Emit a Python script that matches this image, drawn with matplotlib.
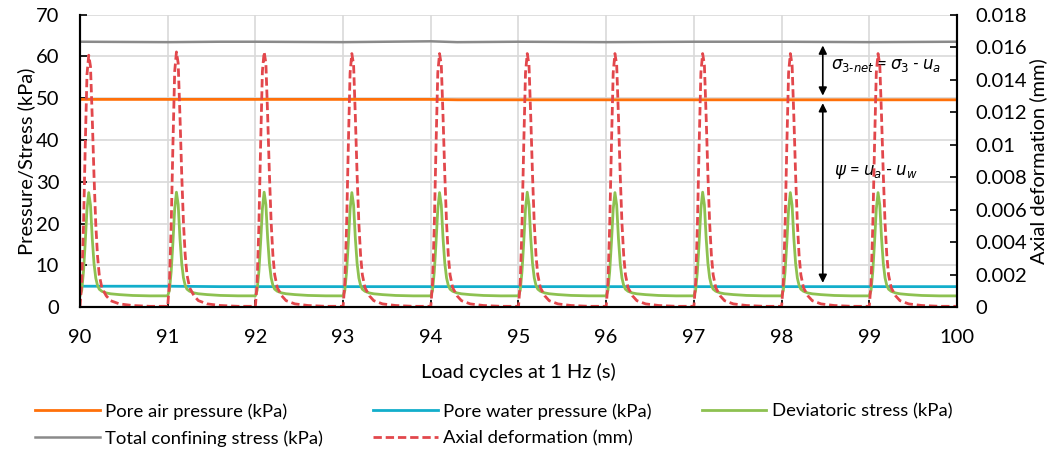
import numpy as np
import matplotlib
matplotlib.use("Agg")
import matplotlib.pyplot as plt
from matplotlib.ticker import FuncFormatter

plt.rcParams["font.family"] = ["Lato", "DejaVu Sans"]

# ---------------------------------------------------------------------------
# Data
# ---------------------------------------------------------------------------
cycle_starts = [90.0, 91.0, 92.0, 93.0, 94.0, 95.0, 96.0, 97.0, 98.0, 99.0]

# one load pulse, offsets in seconds from the cycle start
pulse_offsets = [0.00, 0.02, 0.04, 0.06, 0.08, 0.10, 0.12, 0.14, 0.16, 0.18,
                 0.20, 0.22, 0.25, 0.30, 0.35, 0.45, 0.60, 0.80, 0.99]
deviatoric_pulse = [2.7, 4.0, 8.5, 15.5, 23.5, 27.5, 24.5, 16.5, 10.5, 7.0,
                    5.2, 4.3, 3.8, 3.4, 3.2, 3.0, 2.8, 2.7, 2.7]
axial_pulse = [0.0000, 0.0015, 0.0050, 0.0100, 0.0145, 0.0157, 0.0150, 0.0118,
               0.0082, 0.0052, 0.0032, 0.0020, 0.0012, 0.0007, 0.0004,
               0.0002, 0.0001, 0.00005, 0.00005]

# per-cycle peaks
deviatoric_peaks = [27.4, 27.5, 27.5, 27.4, 27.4, 27.5, 27.4, 27.5, 27.4, 27.4]
axial_peaks = [0.0155, 0.0157, 0.0157, 0.0156, 0.0156, 0.0156, 0.0156,
               0.0156, 0.0156, 0.0156]

# near-constant pressures
t_const = [90.0, 91.0, 91.6, 92.0, 93.0, 94.0, 94.3, 95.0, 96.0, 97.0, 98.0, 99.0, 100.0]
pore_air = [49.7, 49.7, 49.7, 49.7, 49.7, 49.7, 49.6, 49.6, 49.6, 49.6, 49.6, 49.6, 49.6]
pore_water = [5.0, 5.0, 4.9, 4.9, 4.9, 4.9, 4.9, 4.9, 4.9, 4.9, 4.9, 4.9, 4.9]
confining = [63.5, 63.4, 63.5, 63.5, 63.4, 63.6, 63.4, 63.5, 63.4, 63.5, 63.5, 63.4, 63.5]

# ---------------------------------------------------------------------------
# Build the cyclic series
# ---------------------------------------------------------------------------
t_cyc, q_cyc, d_cyc = [], [], []
for c, qp, dp in zip(cycle_starts, deviatoric_peaks, axial_peaks):
    for off, q, d in zip(pulse_offsets, deviatoric_pulse, axial_pulse):
        t_cyc.append(c + off)
        q_cyc.append(q * qp / max(deviatoric_pulse))
        d_cyc.append(d * dp / max(axial_pulse))

c_air = "#FF7009"
c_water = "#12AECB"
c_dev = "#8DC151"
c_conf = "#8A8A8A"
c_ax = "#E2474C"

# ---------------------------------------------------------------------------
# Plot
# ---------------------------------------------------------------------------
fig = plt.figure(figsize=(10.62, 4.55), dpi=100)
ax = fig.add_axes([0.0753, 0.325, 0.8258, 0.643])
ax2 = ax.twinx()

l_air, = ax.plot(t_const, pore_air, color=c_air, lw=2.0, label="Pore air pressure (kPa)")
l_water, = ax.plot(t_const, pore_water, color=c_water, lw=2.0, label="Pore water pressure (kPa)")
l_dev, = ax.plot(t_cyc, q_cyc, color=c_dev, lw=2.0, label="Deviatoric stress (kPa)")
l_conf, = ax.plot(t_const, confining, color=c_conf, lw=1.8, label="Total confining stress (kPa)")
l_ax, = ax2.plot(t_cyc, d_cyc, color=c_ax, lw=2.0, dashes=(3.0, 1.4),
                 label="Axial deformation (mm)")

ax.set_xlim(90, 100)
ax.set_ylim(0, 70)
ax2.set_ylim(0, 0.018)
ax.set_xticks(np.arange(90, 101, 1))
ax.set_yticks(np.arange(0, 71, 10))
ax2.set_yticks(np.arange(0, 0.0181, 0.002))
ax2.yaxis.set_major_formatter(FuncFormatter(lambda v, p: f"{round(v, 4):g}"))

ax.grid(True, color="#D9D9D9", lw=1.2)
ax.set_axisbelow(True)
for a in (ax, ax2):
    a.tick_params(direction="in", length=5, width=1.2, labelsize=14.5, colors="black")
    for s in a.spines.values():
        s.set_linewidth(1.5)
    a.spines["top"].set_visible(False)
ax.tick_params(axis="x", pad=16)
ax.tick_params(axis="y", pad=15)
ax2.tick_params(axis="y", pad=13.5)

ax.set_xlabel("Load cycles at 1 Hz (s)", fontsize=14.5, labelpad=12)
ax.set_ylabel("Pressure/Stress (kPa)", fontsize=14.5, labelpad=0)
ax2.set_ylabel("Axial deformation (mm)", fontsize=14.5, labelpad=1)

# stress-state annotations
arrow_x = 98.47
ax.annotate("", xy=(arrow_x, 50.6), xytext=(arrow_x, 62.6),
            arrowprops=dict(arrowstyle="<|-|>", color="black", lw=1.2,
                            mutation_scale=12, shrinkA=0, shrinkB=0))
ax.annotate("", xy=(arrow_x, 5.8), xytext=(arrow_x, 48.8),
            arrowprops=dict(arrowstyle="<|-|>", color="black", lw=1.2,
                            mutation_scale=12, shrinkA=0, shrinkB=0))
ax.text(98.56, 57.8, r"$\sigma_{3\text{-}net}$ = $\sigma_3$ - $u_a$", fontsize=12,
        ha="left", va="center", style="italic")
ax.text(98.6, 32.4, r"$\psi$ = $u_a$ - $u_w$", fontsize=12, ha="left", va="center")

handles = [l_air, l_conf, l_water, l_ax, l_dev]
fig.legend(handles=handles, labels=[h.get_label() for h in handles],
           loc="lower center", bbox_to_anchor=(0.465, -0.018), ncol=3,
           frameon=False, fontsize=13.3, handlelength=3.5, columnspacing=2.7,
           labelspacing=0.55, handletextpad=0.3)

fig.savefig("out.png", dpi=100)
